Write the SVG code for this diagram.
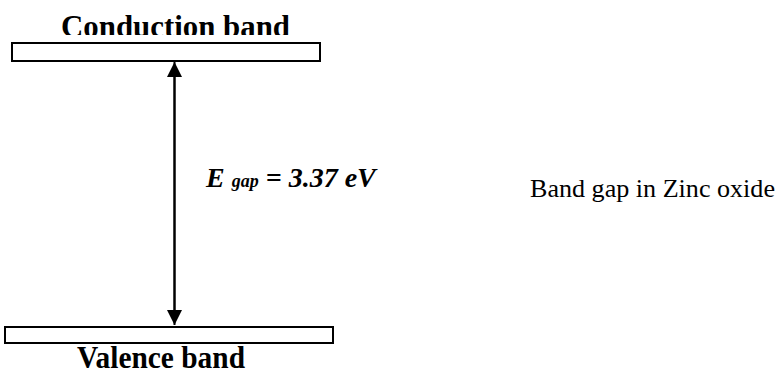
<svg xmlns="http://www.w3.org/2000/svg" width="778" height="374" viewBox="0 0 778 374">
<style>
.band{fill:#fff;stroke:#000;stroke-width:2}
.lbl{font-family:"Liberation Serif","Times New Roman",serif;font-weight:bold;font-size:31px;fill:#000}
.eq{font-family:"Liberation Serif","Times New Roman",serif;font-weight:bold;font-style:italic;fill:#000}
.cap{font-family:"Liberation Serif","Times New Roman",serif;font-size:25px;fill:#000}
</style>
<defs>
<marker id="ah" viewBox="0 0 10 10" refX="10" refY="5" markerWidth="15" markerHeight="15" markerUnits="userSpaceOnUse" orient="auto">
<path d="M0,0 L10,5 L0,10 z" fill="#000"/>
</marker>
<clipPath id="clipTop"><rect x="0" y="0" width="778" height="35"/></clipPath>
</defs>
<g id="conduction">
<rect class="band" x="12" y="43" width="308" height="18"/>
<text class="lbl" x="61" y="37" textLength="229" lengthAdjust="spacingAndGlyphs" clip-path="url(#clipTop)">Conduction band</text>
</g>
<g id="valence">
<rect class="band" x="5" y="327" width="328" height="16"/>
<text class="lbl" x="77" y="368" textLength="168" lengthAdjust="spacingAndGlyphs">Valence band</text>
</g>
<g id="connectors">
<line x1="174.5" y1="315" x2="174.5" y2="62" stroke="#000" stroke-width="2" marker-end="url(#ah)"/>
<line x1="174.5" y1="72" x2="174.5" y2="325" stroke="#000" stroke-width="2" marker-end="url(#ah)"/>
</g>
<g id="gap-label">
<text class="eq" x="206" y="187" font-size="28">E <tspan font-size="18">gap</tspan> = 3.37 eV</text>
</g>
<g id="caption">
<text class="cap" x="530" y="197" textLength="245" lengthAdjust="spacingAndGlyphs">Band gap in Zinc oxide</text>
</g>
</svg>
